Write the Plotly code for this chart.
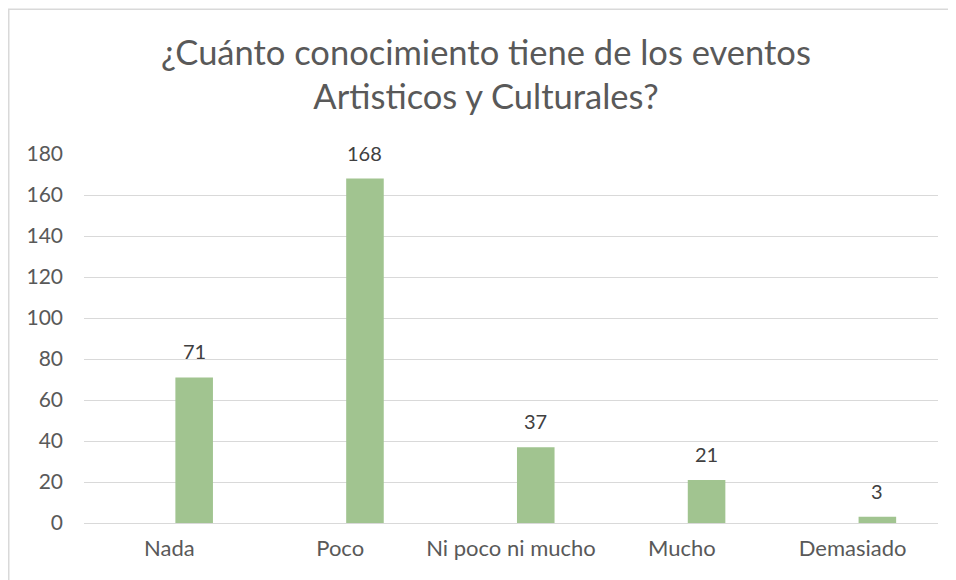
import plotly.graph_objects as go

# data
categories = ["Nada", "Poco", "Ni poco ni mucho", "Mucho", "Demasiado"]
values = [71, 168, 37, 21, 3]
y_ticks = [0, 20, 40, 60, 80, 100, 120, 140, 160, 180]

TEXT = "#595959"
GRID = "#d9d9d9"
FONT = "Lato"

# the page body adds 8px around the figure
W, H = 948, 572
L, R, T, B = 76, 18, 146, 57
PW, PH = W - L - R, H - T - B

BAR_W = 0.22
BAR_OFF = 0.035

fig = go.Figure()
fig.add_trace(go.Bar(
    x=categories,
    y=values,
    width=BAR_W,
    offset=BAR_OFF,
    marker=dict(color="#A1C490", line=dict(width=0)),
    hoverinfo="x+y",
))

# value labels above each bar
for i, v in enumerate(values):
    fig.add_annotation(
        x=i + BAR_OFF + BAR_W / 2, y=v,
        text=str(v), showarrow=False,
        xanchor="center", yanchor="bottom", yshift=12,
        font=dict(family=FONT, size=20, color="#404040"),
    )

fig.update_layout(
    width=W,
    height=H,
    paper_bgcolor="white",
    plot_bgcolor="white",
    margin=dict(l=L, r=R, t=T, b=B),
    showlegend=False,
    font=dict(family=FONT, color=TEXT),
    title=dict(
        text="¿Cuánto conocimiento tiene de los eventos<br>Artisticos y Culturales?",
        x=0.5042, xanchor="center", xref="container",
        y=1 - 56.5 / H, yanchor="middle", yref="container",
        font=dict(family=FONT, size=34.5, color=TEXT),
    ),
    xaxis=dict(
        showgrid=False,
        showline=False,
        ticks="",
        tickfont=dict(family=FONT, size=22, color=TEXT),
        ticklabelstandoff=10,
    ),
    yaxis=dict(
        range=[0, 180],
        tickvals=y_ticks,
        showgrid=True,
        gridcolor=GRID,
        gridwidth=1,
        zeroline=True,
        zerolinecolor=GRID,
        zerolinewidth=1,
        showline=False,
        ticks="",
        tickfont=dict(family=FONT, size=21, color=TEXT),
        ticklabelstandoff=20,
    ),
    shapes=[dict(
        type="rect", xref="paper", yref="paper",
        x0=(0.75 - L) / PW, x1=(W + 20 - L) / PW,
        y0=-(B + 20) / PH, y1=1 + (T - 1.25) / PH,
        line=dict(color=GRID, width=1.5),
        fillcolor="rgba(0,0,0,0)",
        layer="above",
    )],
)

fig.write_html("out.html")
